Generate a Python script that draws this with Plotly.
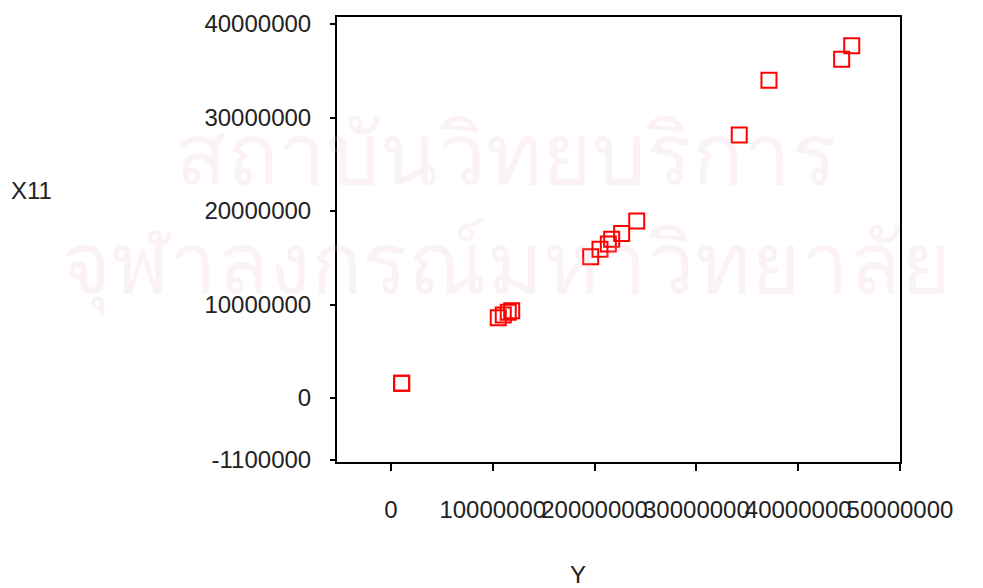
import plotly.graph_objects as go

# Data (Y on x-axis, X11 on y-axis)
y_values = [45.26e6, 44.27e6, 37.13e6, 34.21e6, 24.14e6, 22.66e6, 21.68e6, 21.35e6,
            20.53e6, 19.62e6, 1.05e6, 1.05e6, 10.54e6, 11.03e6, 11.52e6, 11.86e6]
x11_values = [37.68e6, 36.22e6, 33.98e6, 28.13e6, 18.93e6, 17.61e6, 16.97e6, 16.47e6,
              15.90e6, 15.11e6, 1.57e6, 1.57e6, 8.59e6, 8.88e6, 9.17e6, 9.34e6]

x_tick_vals = [0, 10e6, 20e6, 30e6, 40e6, 50e6]
x_tick_text = ["0", "10000000", "20000000", "30000000", "40000000", "50000000"]
y_tick_vals = [-6.63e6, 0, 10e6, 20e6, 30e6, 40e6]
y_tick_text = ["-1100000", "0", "10000000", "20000000", "30000000", "40000000"]

watermark_lines = ["สถาบันวิทยบริการ", "จุฬาลงกรณ์มหาวิทยาลัย"]

font_family = "Liberation Sans, Arial, sans-serif"

fig = go.Figure()
fig.add_trace(go.Scatter(
    x=y_values, y=x11_values, mode="markers",
    marker=dict(symbol="square-open", size=15, color="#ff0000",
                line=dict(width=2, color="#ff0000")),
    showlegend=False, hoverinfo="x+y",
))

wm_color = "rgba(225,175,200,0.17)"

fig.update_layout(
    width=983, height=588,
    margin=dict(l=337, r=83, t=17, b=126),
    paper_bgcolor="white", plot_bgcolor="white",
    font=dict(family=font_family, size=24, color="#222222"),
    xaxis=dict(range=[-5.30e6, 50e6], tickmode="array", tickvals=x_tick_vals,
               ticktext=x_tick_text, tickangle=0, showgrid=False, zeroline=False,
               showline=True, linecolor="black", linewidth=2, mirror=True,
               ticks="outside", ticklen=7, tickwidth=2, tickcolor="black",
               ticklabelstandoff=18, automargin=False,
               tickfont=dict(size=24, color="#222222")),
    yaxis=dict(range=[-6.84e6, 40.75e6], tickmode="array", tickvals=y_tick_vals,
               ticktext=y_tick_text, showgrid=False, zeroline=False,
               showline=True, linecolor="black", linewidth=2, mirror=True,
               ticks="outside", ticklen=5, tickwidth=2, tickcolor="black",
               ticklabelstandoff=14, automargin=False,
               tickfont=dict(size=24, color="#222222")),
    annotations=[
        dict(text=watermark_lines[0], xref="paper", yref="paper", x=0.30, y=0.69,
             xanchor="center", yanchor="middle", showarrow=False,
             font=dict(size=85, color=wm_color)),
        dict(text=watermark_lines[1], xref="paper", yref="paper", x=0.30, y=0.44,
             xanchor="center", yanchor="middle", showarrow=False,
             font=dict(size=85, color=wm_color)),
        dict(text="X11", xref="paper", yref="paper", x=-0.5435, y=0.611,
             xanchor="center", yanchor="middle",
             showarrow=False, font=dict(size=24, color="#222222")),
        dict(text="Y", xref="paper", yref="paper", x=0.428, y=-0.252,
             xanchor="center", yanchor="middle",
             showarrow=False, font=dict(size=24, color="#222222")),
    ],
)

fig.write_html("out.html", config={"displayModeBar": False},
               post_script="document.body.style.margin='0';")
